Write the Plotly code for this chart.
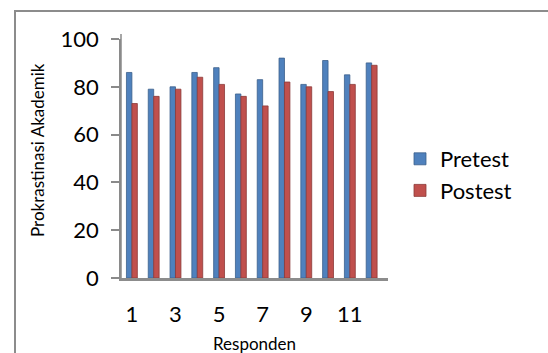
import plotly.graph_objects as go

responden = list(range(1, 13))
pretest = [86, 79, 80, 86, 88, 77, 83, 92, 81, 91, 85, 90]
postest = [73, 76, 79, 84, 81, 76, 72, 82, 80, 78, 81, 89]
x_ticks = [1, 3, 5, 7, 9, 11]
y_ticks = [0, 20, 40, 60, 80, 100]

FONT = "Lato"
W, H = 548, 353
L, R, T, B = 121, 160, 39, 75   # plot area margins (px)

fig = go.Figure()
fig.add_trace(go.Bar(x=responden, y=pretest, name="Pretest",
                     marker=dict(color="#4F81BD", line=dict(color="#3b5f8c", width=0.8))))
fig.add_trace(go.Bar(x=responden, y=postest, name="Postest",
                     marker=dict(color="#C0504D", line=dict(color="#8c3a38", width=0.8))))

pw = W - L - R
ph = H - T - B
def px_x(p):
    return (p - L) / pw
def px_y(p):
    return (H - B - p) / ph

fig.update_layout(
    width=W, height=H,
    margin=dict(l=L, r=R, t=T, b=B, pad=0),
    paper_bgcolor="white", plot_bgcolor="white",
    barmode="group", bargap=0.5, bargroupgap=0.0,
    font=dict(family=FONT, color="black"),
    showlegend=True,
    legend=dict(x=px_x(400), y=px_y(175), xanchor="left", yanchor="middle",
                font=dict(size=22, family=FONT), bgcolor="rgba(0,0,0,0)",
                itemwidth=30, tracegroupgap=2),
    xaxis=dict(range=[0.5, 12.75], tickmode="array", tickvals=x_ticks,
               ticktext=[str(v) for v in x_ticks], showgrid=False, zeroline=False,
               showline=True, linecolor="#8c8c8c", linewidth=3, ticks="",
               tickfont=dict(size=22, family=FONT), ticklabelstandoff=15,
               automargin=False),
    yaxis=dict(range=[0, 100], tickmode="array", tickvals=y_ticks,
               showgrid=False, zeroline=False, showline=True, linecolor="#8a8a8a",
               linewidth=1.5, ticks="outside", ticklen=8, tickcolor="#8a8a8a",
               tickwidth=1.5, tickfont=dict(size=22, family=FONT),
               ticklabelstandoff=8, automargin=False),
    annotations=[
        dict(text="Prokrastinasi Akademik", xref="paper", yref="paper",
             x=px_x(37), y=px_y(150), textangle=-90, showarrow=False,
             font=dict(size=17, family=FONT), xanchor="center", yanchor="middle"),
        dict(text="Responden", xref="paper", yref="paper",
             x=px_x(254), y=px_y(343), showarrow=False,
             font=dict(size=17, family=FONT), xanchor="center", yanchor="middle"),
    ],
    shapes=[
        dict(type="rect", xref="paper", yref="paper",
             x0=px_x(15), x1=px_x(560), y0=px_y(370), y1=px_y(11),
             line=dict(color="#8c8c8c", width=2), fillcolor="rgba(0,0,0,0)", layer="below"),
        dict(type="line", xref="paper", yref="paper",
             x0=px_x(121), x1=px_x(121), y0=px_y(278), y1=px_y(34),
             line=dict(color="#8a8a8a", width=1.5)),
    ],
)

fig.write_html("out.html",
               config={"displayModeBar": False},
               post_script="document.body.style.margin='0';document.body.style.padding='0';")
